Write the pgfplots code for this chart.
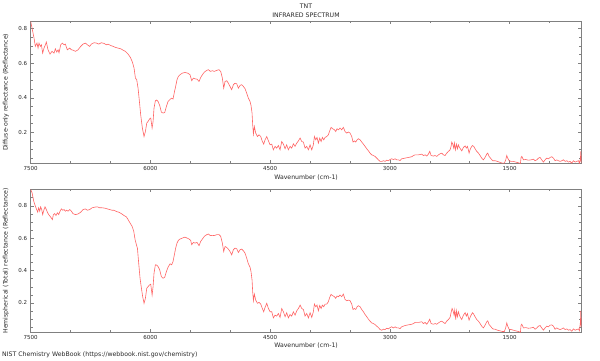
\documentclass[border=0pt]{standalone}
\usepackage{fontspec}
\setmainfont{DejaVu Sans}
\usepackage{pgfplots}
\pgfplotsset{compat=1.18}
\definecolor{spec}{RGB}{255,100,100}
\definecolor{frm}{RGB}{128,128,128}
\definecolor{txt}{RGB}{40,40,40}
\begin{document}
\begin{tikzpicture}[x=1pt,y=1pt]
\useasboundingbox (0,0) rectangle (600,360);
\pgfplotsset{
 myax/.style={
  anchor=south west, scale only axis, width=550.8pt,
  xmin=600, xmax=7500, x dir=reverse,
  axis line style={frm, line width=0.8pt},
  xtick={1500,3000,4500,6000,7500},
  minor xtick={1000,2000,2500,3500,4000,5000,5500,6500,7000},
  ytick={0.2,0.4,0.6,0.8},
  minor ytick={0.05,0.1,0.15,0.25,0.3,0.35,0.45,0.5,0.55,0.65,0.7,0.75,0.85},
  tick align=inside,
  major tick length=3pt, minor tick length=2pt,
  tick style={frm, line width=0.6pt},
  /pgf/number format/assume math mode=true,
  /pgf/number format/1000 sep={},
  yticklabel style={/pgf/number format/fixed, /pgf/number format/precision=1, /pgf/number format/fixed zerofill},
  tick label style={font=\fontsize{5.5}{6}\selectfont, text=txt},
  label style={font=\fontsize{6.2}{7}\selectfont, text=txt},
  xlabel={Wavenumber (cm-1)},
  ylabel style={at={(axis description cs:-0.0448,0.5)}, anchor=center},
 }
}
\begin{axis}[myax, at={(30.7pt,196.7pt)}, height=142pt, ymin=0.021, ymax=0.843,
  xlabel style={at={(axis description cs:0.5,-0.1035)}, anchor=center},
  ylabel={Diffuse-only reflectance (Reflectance)}]
\addplot[spec, line width=0.6pt] table {
7500 0.842
7483 0.804
7458 0.746
7442 0.698
7421 0.717
7408 0.688
7396 0.717
7379 0.698
7366 0.707
7350 0.659
7333 0.688
7316 0.707
7304 0.723
7283 0.678
7258 0.653
7233 0.669
7208 0.659
7191 0.684
7174 0.665
7157 0.678
7145 0.661
7124 0.707
7103 0.717
7082 0.707
7066 0.711
7041 0.678
7011 0.688
6990 0.678
6970 0.676
6940 0.669
6907 0.678
6873 0.698
6844 0.711
6815 0.717
6790 0.707
6761 0.698
6740 0.711
6706 0.719
6677 0.717
6648 0.711
6614 0.719
6581 0.715
6552 0.707
6531 0.711
6498 0.703
6468 0.698
6439 0.692
6406 0.688
6372 0.684
6343 0.676
6314 0.669
6280 0.653
6251 0.634
6226 0.607
6205 0.572
6188 0.514
6172 0.505
6155 0.456
6138 0.379
6122 0.302
6101 0.225
6080 0.176
6063 0.205
6046 0.254
6030 0.263
6009 0.279
5996 0.283
5979 0.225
5967 0.263
5955 0.341
5938 0.383
5921 0.387
5904 0.379
5884 0.356
5863 0.317
5842 0.312
5821 0.315
5800 0.350
5779 0.379
5754 0.391
5734 0.398
5717 0.393
5700 0.433
5684 0.466
5667 0.505
5650 0.524
5629 0.534
5600 0.543
5567 0.547
5533 0.543
5504 0.534
5483 0.499
5462 0.514
5441 0.510
5416 0.508
5391 0.495
5370 0.518
5349 0.534
5324 0.549
5295 0.559
5274 0.563
5249 0.553
5224 0.557
5199 0.553
5170 0.559
5141 0.563
5120 0.553
5099 0.514
5082 0.456
5065 0.495
5044 0.499
5024 0.485
5003 0.466
4982 0.447
4961 0.476
4940 0.485
4919 0.481
4898 0.456
4877 0.472
4856 0.476
4836 0.466
4815 0.453
4794 0.427
4773 0.398
4752 0.379
4740 0.356
4727 0.312
4719 0.244
4710 0.190
4698 0.234
4681 0.196
4660 0.176
4639 0.186
4618 0.176
4598 0.147
4581 0.132
4564 0.157
4543 0.176
4522 0.151
4501 0.128
4480 0.132
4460 0.099
4439 0.119
4418 0.109
4397 0.124
4376 0.099
4355 0.147
4334 0.132
4313 0.105
4293 0.128
4272 0.099
4251 0.119
4230 0.109
4209 0.134
4188 0.119
4167 0.138
4146 0.151
4125 0.167
4104 0.147
4084 0.144
4063 0.109
4042 0.119
4021 0.099
4000 0.128
3979 0.099
3959 0.128
3946 0.176
3929 0.157
3913 0.171
3896 0.138
3879 0.167
3862 0.147
3846 0.171
3829 0.157
3812 0.171
3791 0.176
3771 0.186
3754 0.209
3737 0.229
3716 0.221
3695 0.215
3679 0.205
3662 0.221
3645 0.215
3624 0.225
3604 0.215
3583 0.229
3562 0.205
3541 0.196
3520 0.202
3499 0.196
3478 0.176
3462 0.144
3445 0.151
3428 0.144
3411 0.157
3395 0.163
3374 0.157
3353 0.144
3332 0.132
3311 0.119
3290 0.105
3269 0.093
3249 0.080
3228 0.070
3207 0.066
3186 0.061
3165 0.051
3144 0.041
3123 0.032
3102 0.032
3081 0.036
3061 0.032
3040 0.039
3019 0.036
2998 0.043
2977 0.047
2956 0.043
2935 0.047
2914 0.041
2893 0.041
2873 0.037
2852 0.047
2810 0.051
2768 0.055
2726 0.059
2705 0.066
2685 0.070
2643 0.070
2601 0.074
2580 0.066
2559 0.070
2538 0.063
2518 0.074
2501 0.090
2484 0.066
2455 0.063
2434 0.066
2413 0.061
2392 0.070
2371 0.076
2350 0.080
2330 0.070
2309 0.066
2288 0.080
2267 0.090
2246 0.099
2234 0.119
2225 0.144
2213 0.132
2200 0.109
2192 0.138
2180 0.099
2167 0.132
2154 0.105
2142 0.128
2129 0.113
2117 0.105
2100 0.093
2079 0.113
2058 0.122
2042 0.109
2029 0.119
2017 0.099
2008 0.080
1996 0.099
1983 0.113
1966 0.124
1950 0.119
1933 0.105
1912 0.090
1891 0.080
1870 0.066
1850 0.051
1829 0.041
1808 0.055
1787 0.074
1774 0.080
1758 0.061
1733 0.047
1712 0.036
1682 0.036
1653 0.032
1620 0.026
1591 0.022
1566 0.022
1549 0.041
1536 0.066
1524 0.051
1507 0.036
1482 0.032
1453 0.032
1423 0.028
1390 0.024
1365 0.020
1357 0.055
1348 0.061
1327 0.041
1298 0.043
1265 0.039
1231 0.041
1202 0.045
1181 0.036
1160 0.041
1139 0.051
1119 0.055
1098 0.041
1077 0.028
1056 0.041
1035 0.051
1014 0.047
993 0.055
972 0.059
951 0.051
931 0.036
910 0.041
889 0.036
868 0.032
847 0.036
826 0.041
805 0.032
784 0.036
763 0.028
743 0.032
722 0.022
701 0.036
680 0.028
659 0.032
638 0.036
626 0.022
613 0.051
609 0.090
605 0.022
601 0.070
};
\end{axis}
\begin{axis}[myax, at={(30.7pt,27.7pt)}, height=142.8pt, ymin=0.019, ymax=0.901,
  xlabel style={at={(axis description cs:0.5,-0.094)}, anchor=center},
  ylabel={Hemispherical (Total) reflectance (Reflectance)}]
\addplot[spec, line width=0.6pt] table {
7500 0.901
7483 0.881
7462 0.829
7442 0.798
7425 0.777
7412 0.761
7400 0.788
7387 0.767
7375 0.794
7362 0.777
7350 0.746
7333 0.777
7321 0.794
7304 0.777
7291 0.761
7275 0.746
7258 0.736
7241 0.725
7228 0.715
7216 0.746
7199 0.752
7183 0.740
7166 0.757
7149 0.746
7132 0.767
7116 0.781
7099 0.773
7082 0.777
7066 0.767
7049 0.773
7032 0.767
7011 0.777
6990 0.767
6970 0.752
6940 0.746
6907 0.750
6873 0.761
6844 0.777
6815 0.781
6790 0.773
6761 0.777
6731 0.788
6698 0.792
6665 0.794
6635 0.788
6606 0.788
6573 0.786
6539 0.781
6510 0.777
6481 0.773
6456 0.773
6427 0.765
6397 0.761
6364 0.752
6330 0.740
6301 0.732
6280 0.715
6255 0.694
6230 0.674
6209 0.643
6192 0.591
6176 0.560
6163 0.539
6147 0.446
6130 0.353
6113 0.291
6097 0.239
6080 0.198
6063 0.229
6046 0.291
6030 0.301
6013 0.311
5996 0.316
5979 0.249
5967 0.301
5955 0.384
5938 0.436
5921 0.434
5904 0.425
5884 0.405
5863 0.363
5842 0.353
5821 0.359
5800 0.394
5779 0.421
5754 0.442
5734 0.436
5717 0.456
5700 0.498
5684 0.539
5667 0.570
5650 0.587
5629 0.595
5600 0.601
5567 0.607
5541 0.601
5516 0.595
5496 0.587
5483 0.560
5462 0.574
5441 0.570
5416 0.574
5391 0.554
5370 0.581
5349 0.595
5324 0.612
5295 0.622
5274 0.626
5249 0.616
5224 0.618
5199 0.616
5170 0.622
5141 0.622
5120 0.612
5099 0.570
5082 0.518
5065 0.549
5044 0.543
5024 0.533
5003 0.518
4982 0.498
4961 0.529
4940 0.539
4919 0.535
4898 0.512
4877 0.529
4856 0.533
4836 0.523
4815 0.508
4794 0.477
4773 0.442
4752 0.421
4740 0.394
4727 0.342
4719 0.270
4710 0.214
4698 0.255
4681 0.218
4660 0.198
4639 0.204
4618 0.193
4598 0.166
4581 0.146
4564 0.173
4543 0.198
4522 0.166
4501 0.146
4480 0.146
4460 0.108
4439 0.125
4418 0.119
4397 0.135
4376 0.111
4355 0.166
4334 0.146
4313 0.115
4293 0.140
4272 0.108
4251 0.129
4230 0.119
4209 0.146
4188 0.125
4167 0.152
4146 0.166
4125 0.187
4104 0.166
4084 0.160
4063 0.119
4042 0.135
4021 0.108
4000 0.140
3979 0.111
3959 0.146
3946 0.193
3929 0.177
3913 0.187
3896 0.152
3879 0.185
3862 0.166
3846 0.187
3829 0.177
3812 0.193
3791 0.193
3771 0.208
3754 0.235
3737 0.253
3716 0.245
3695 0.239
3679 0.229
3662 0.243
3645 0.239
3624 0.249
3604 0.239
3583 0.255
3562 0.222
3541 0.214
3520 0.218
3499 0.214
3478 0.193
3462 0.160
3445 0.166
3428 0.160
3411 0.177
3395 0.183
3374 0.177
3353 0.160
3332 0.146
3311 0.129
3290 0.115
3269 0.100
3249 0.088
3228 0.077
3207 0.073
3186 0.067
3165 0.057
3144 0.048
3123 0.036
3102 0.032
3081 0.038
3061 0.036
3040 0.044
3019 0.040
2998 0.048
2977 0.053
2956 0.046
2935 0.053
2914 0.046
2893 0.046
2873 0.042
2852 0.053
2810 0.061
2768 0.065
2726 0.069
2705 0.073
2685 0.080
2643 0.080
2601 0.084
2580 0.073
2559 0.080
2538 0.069
2518 0.084
2501 0.100
2484 0.073
2455 0.069
2434 0.073
2413 0.069
2392 0.077
2371 0.084
2350 0.088
2330 0.080
2309 0.073
2288 0.088
2267 0.098
2246 0.111
2234 0.140
2221 0.166
2209 0.152
2196 0.125
2188 0.156
2175 0.098
2167 0.152
2154 0.115
2142 0.146
2129 0.125
2117 0.111
2100 0.098
2079 0.125
2058 0.140
2042 0.119
2029 0.135
2017 0.111
2008 0.094
1996 0.111
1983 0.125
1966 0.140
1950 0.131
1933 0.115
1912 0.098
1891 0.088
1870 0.073
1850 0.057
1829 0.046
1808 0.063
1787 0.084
1774 0.090
1758 0.067
1733 0.053
1712 0.040
1682 0.038
1653 0.032
1620 0.028
1591 0.024
1566 0.024
1549 0.048
1536 0.077
1524 0.057
1507 0.038
1482 0.036
1453 0.032
1423 0.028
1390 0.024
1365 0.019
1357 0.063
1348 0.069
1327 0.046
1298 0.048
1265 0.044
1231 0.046
1202 0.050
1181 0.038
1160 0.046
1139 0.057
1119 0.061
1098 0.046
1077 0.032
1056 0.046
1035 0.057
1014 0.053
993 0.063
972 0.065
951 0.057
931 0.038
910 0.046
889 0.040
868 0.036
847 0.040
826 0.046
805 0.036
784 0.040
763 0.032
743 0.036
722 0.026
701 0.040
680 0.032
659 0.036
638 0.040
626 0.028
613 0.084
609 0.152
605 0.053
601 0.115
};
\end{axis}
\node[font=\fontsize{6.2}{7}\selectfont, text=txt] at (306,354) {TNT};
\node[font=\fontsize{6.2}{7}\selectfont, text=txt] at (306,345) {INFRARED SPECTRUM};
\node[font=\fontsize{6.2}{7}\selectfont, text=txt, anchor=west, inner sep=0pt] at (2,5) {NIST Chemistry WebBook (https://webbook.nist.gov/chemistry)};
\end{tikzpicture}
\end{document}
